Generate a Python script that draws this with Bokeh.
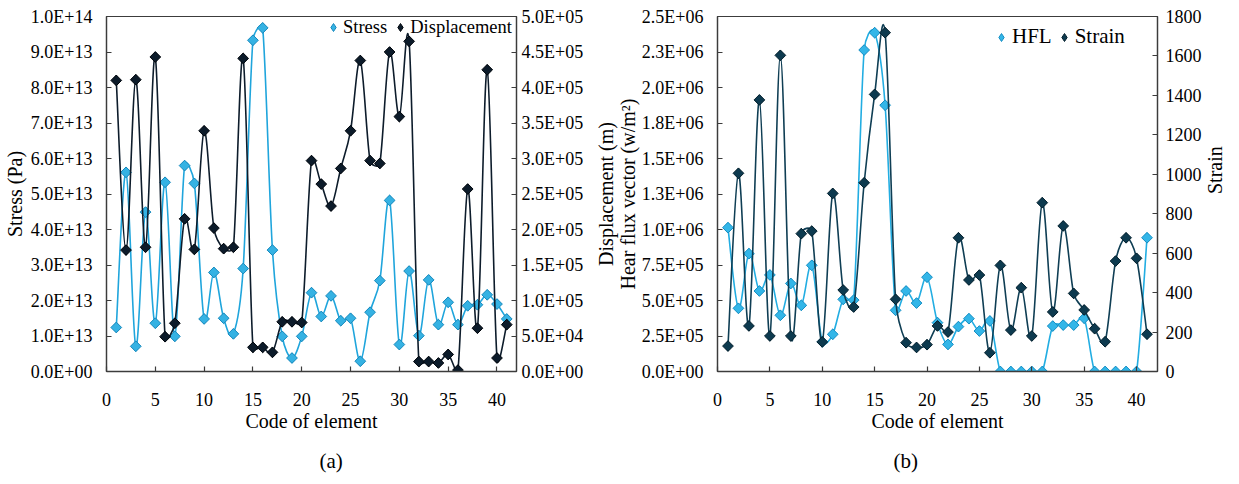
import math
from bokeh.plotting import figure
from bokeh.layouts import row
from bokeh.models import (Range1d, LinearAxis, FixedTicker, CustomJSTickFormatter,
                          Legend, LegendItem, ColumnDataSource, Title)
from bokeh.embed import file_html
from bokeh.resources import INLINE

FONT = "Liberation Serif"

# ---------------- data ----------------
element = [1, 2, 3, 4, 5, 6, 7, 8, 9, 10, 11, 12, 13, 14, 15, 16, 17, 18, 19, 20, 21,
           22, 23, 24, 25, 26, 27, 28, 29, 30, 31, 32, 33, 34, 35, 36, 37, 38, 39, 40, 41]

stress = [1.24e13, 5.61e13, 0.71e13, 4.49e13, 1.36e13, 5.33e13, 0.99e13, 5.80e13, 5.30e13,
          1.48e13, 2.79e13, 1.50e13, 1.06e13, 2.90e13, 9.33e13, 9.68e13, 3.42e13, 0.99e13,
          0.38e13, 0.99e13, 2.22e13, 1.55e13, 2.13e13, 1.43e13, 1.50e13, 0.29e13, 1.67e13,
          2.56e13, 4.82e13, 0.76e13, 2.83e13, 1.01e13, 2.58e13, 1.32e13, 1.95e13, 1.32e13,
          1.85e13, 1.88e13, 2.16e13, 1.90e13, 1.48e13]

displacement = [4.10e5, 1.71e5, 4.11e5, 1.75e5, 4.43e5, 0.49e5, 0.68e5, 2.15e5, 1.72e5,
                3.39e5, 2.02e5, 1.73e5, 1.75e5, 4.41e5, 0.34e5, 0.34e5, 0.27e5, 0.70e5,
                0.70e5, 0.69e5, 2.97e5, 2.64e5, 2.33e5, 2.86e5, 3.39e5, 4.38e5, 2.97e5,
                2.93e5, 4.50e5, 3.59e5, 4.65e5, 0.14e5, 0.14e5, 0.12e5, 0.24e5, 0.02e5,
                2.57e5, 0.61e5, 4.25e5, 0.19e5, 0.66e5]

hfl = [1.013e6, 0.445e6, 0.83e6, 0.567e6, 0.68e6, 0.396e6, 0.62e6, 0.466e6, 0.748e6,
       0.208e6, 0.262e6, 0.508e6, 0.503e6, 2.264e6, 2.386e6, 1.875e6, 0.431e6, 0.567e6,
       0.482e6, 0.664e6, 0.344e6, 0.191e6, 0.316e6, 0.372e6, 0.285e6, 0.356e6, 0.0, 0.0,
       0.0, 0.0, 0.0, 0.32e6, 0.327e6, 0.327e6, 0.375e6, 0.0, 0.0, 0.0, 0.0, 0.0, 0.942e6]

strain = [129, 1005, 231, 1377, 180, 1603, 180, 699, 712, 150, 903, 413, 327, 957, 1405,
          1718, 366, 146, 122, 136, 231, 200, 678, 464, 489, 95, 538, 210, 425, 180, 856,
          302, 738, 396, 312, 217, 151, 560, 678, 574, 189]

x_ticks = [0, 5, 10, 15, 20, 25, 30, 35, 40]
x_tick_labels = ["0", "5", "10", "15", "20", "25", "30", "35", "40"]

stress_ticks = [0, 1e13, 2e13, 3e13, 4e13, 5e13, 6e13, 7e13, 8e13, 9e13, 1e14]
stress_tick_labels = ["0.0E+00", "1.0E+13", "2.0E+13", "3.0E+13", "4.0E+13", "5.0E+13",
                      "6.0E+13", "7.0E+13", "8.0E+13", "9.0E+13", "1.0E+14"]

disp_ticks = [0, 5e4, 1e5, 1.5e5, 2e5, 2.5e5, 3e5, 3.5e5, 4e5, 4.5e5, 5e5]
disp_tick_labels = ["0.0E+00", "5.0E+04", "1.0E+05", "1.5E+05", "2.0E+05", "2.5E+05",
                    "3.0E+05", "3.5E+05", "4.0E+05", "4.5E+05", "5.0E+05"]

hfl_ticks = [0, 2.5e5, 5e5, 7.5e5, 1e6, 1.25e6, 1.5e6, 1.75e6, 2e6, 2.25e6, 2.5e6]
hfl_tick_labels = ["0.0E+00", "2.5E+05", "5.0E+05", "7.5E+05", "1.0E+06", "1.3E+06",
                   "1.5E+06", "1.8E+06", "2.0E+06", "2.3E+06", "2.5E+06"]

strain_ticks = [0, 200, 400, 600, 800, 1000, 1200, 1400, 1600, 1800]
strain_tick_labels = ["0", "200", "400", "600", "800", "1000", "1200", "1400", "1600", "1800"]

X_MAX = 42


# ---------------- helpers ----------------
def fmt(ticks, labels):
    return CustomJSTickFormatter(args=dict(tv=ticks, tl=labels), code="""
        for (let i = 0; i < tv.length; i++) {
            if (Math.abs(tv[i] - tick) <= 1e-9 * Math.max(1, Math.abs(tv[i]))) return tl[i];
        }
        return "";
    """)


def smooth_source(xs, ys, kx, ky):
    """Excel-style smoothed segments: Bezier control points computed in pixel space,
    with the control-point distance capped at half of the segment length."""
    n = len(xs)
    P = [(x * kx, y * ky) for x, y in zip(xs, ys)]

    def dist(a, b):
        return math.hypot(a[0] - b[0], a[1] - b[1])

    d = dict(x0=[], y0=[], x1=[], y1=[], cx0=[], cy0=[], cx1=[], cy1=[])
    for i in range(n - 1):
        p0 = P[i - 1] if i > 0 else P[i]
        p1 = P[i]
        p2 = P[i + 1]
        p3 = P[i + 2] if i + 2 < n else P[i + 1]
        d12 = dist(p1, p2)
        d02 = dist(p0, p2)
        d13 = dist(p1, p3)
        f1 = 1.0 / 6.0
        if d02 > 0 and d02 * f1 > d12 / 2:
            f1 = d12 / (2 * d02)
        f2 = 1.0 / 6.0
        if d13 > 0 and d13 * f2 > d12 / 2:
            f2 = d12 / (2 * d13)
        c1 = (p1[0] + (p2[0] - p0[0]) * f1, p1[1] + (p2[1] - p0[1]) * f1)
        c2 = (p2[0] - (p3[0] - p1[0]) * f2, p2[1] - (p3[1] - p1[1]) * f2)
        d["x0"].append(xs[i]); d["y0"].append(ys[i])
        d["x1"].append(xs[i + 1]); d["y1"].append(ys[i + 1])
        d["cx0"].append(c1[0] / kx); d["cy0"].append(c1[1] / ky)
        d["cx1"].append(c2[0] / kx); d["cy1"].append(c2[1] / ky)
    return ColumnDataSource(d)


def style_axis(ax, standoff):
    ax.axis_line_color = "#3c3c3c"
    ax.axis_line_width = 1.3
    ax.major_tick_line_color = "#3c3c3c"
    ax.major_tick_line_width = 1.2
    ax.major_tick_in = 5
    ax.major_tick_out = 0
    ax.minor_tick_line_color = None
    ax.major_label_text_font = FONT
    ax.major_label_text_font_size = "18px"
    ax.major_label_text_color = "black"
    ax.major_label_standoff = standoff


def axis_title(ax, text, standoff, upward_right=False):
    ax.axis_label = text
    ax.axis_label_text_font = FONT
    ax.axis_label_text_font_size = "20px"
    ax.axis_label_text_font_style = "normal"
    ax.axis_label_text_color = "black"
    ax.axis_label_standoff = standoff
    if upward_right:
        try:
            ax.axis_label_orientation = math.pi / 2
        except Exception:
            pass


def make_fig(width, left, right, top, bottom, y_range, caption, cap_offset):
    p = figure(width=width, height=484, output_backend="svg", toolbar_location=None,
               x_range=Range1d(0, X_MAX), y_range=y_range,
               min_border_left=left, min_border_right=right,
               min_border_top=top, min_border_bottom=bottom)
    p.grid.visible = False
    p.outline_line_color = "#3c3c3c"
    p.outline_line_width = 1.2
    p.background_fill_color = "white"
    p.border_fill_color = "white"
    xa = p.xaxis[0]
    xa.ticker = FixedTicker(ticks=x_ticks)
    xa.formatter = fmt(x_ticks, x_tick_labels)
    style_axis(xa, 21)
    axis_title(xa, "Code of element", 1)
    cap = Title(text=caption, align="left", offset=cap_offset, standoff=24,
                text_font=FONT, text_font_size="21px", text_font_style="normal",
                text_color="black")
    p.add_layout(cap, "below")
    return p


def series(p, xs, ys, kx, ky, line_color, fill, edge, rname="default"):
    p.bezier(x0="x0", y0="y0", x1="x1", y1="y1", cx0="cx0", cy0="cy0", cx1="cx1",
             cy1="cy1", source=smooth_source(xs, ys, kx, ky), line_color=line_color,
             line_width=1.6, y_range_name=rname)
    src = ColumnDataSource(dict(x=xs, y=ys))
    # diamond used for the legend (hidden under the rotated square markers)
    leg = p.scatter("x", "y", source=src, marker="diamond", size=10,
                    fill_color=fill, line_color=edge, line_width=1.0, y_range_name=rname)
    p.scatter("x", "y", source=src, marker="square", angle=math.pi / 4, size=7.6,
              fill_color=fill, line_color=edge, line_width=1.0, y_range_name=rname)
    return leg


# ---------------- chart (a) ----------------
A_LEFT, A_RIGHT, A_FW, A_FH = 102, 66, 418, 357
A_W = A_LEFT + A_FW + A_RIGHT
pa = make_fig(A_W, A_LEFT, A_RIGHT, 15, 484 - 15 - A_FH, Range1d(0, 1e14), "(a)", 213)
ya = pa.yaxis[0]
ya.ticker = FixedTicker(ticks=stress_ticks)
ya.formatter = fmt(stress_ticks, stress_tick_labels)
style_axis(ya, 14)
axis_title(ya, "Stress (Pa)", 2)

pa.extra_y_ranges = {"disp": Range1d(0, 5e5)}
ra = LinearAxis(y_range_name="disp", ticker=FixedTicker(ticks=disp_ticks),
                formatter=fmt(disp_ticks, disp_tick_labels))
style_axis(ra, 5)
pa.add_layout(ra, "right")

kxa = A_FW / X_MAX
s_stress = series(pa, element, stress, kxa, A_FH / 1e14, "#1fa5dc", "#35b2e3", "#1789bd")
s_disp = series(pa, element, displacement, kxa, A_FH / 5e5, "#0d1c2b", "#0c1b2a", "#02070d", "disp")

leg_a = Legend(items=[LegendItem(label="Stress", renderers=[s_stress]),
                      LegendItem(label="Displacement", renderers=[s_disp])],
               orientation="horizontal", location=(217, 333), padding=0, margin=0,
               spacing=3, glyph_width=20, glyph_height=22, label_standoff=0,
               border_line_color=None, background_fill_alpha=0,
               label_text_font=FONT, label_text_font_size="18.5px",
               label_text_color="black")
pa.add_layout(leg_a)

# ---------------- chart (b) ----------------
B_W = 1239 - A_W
B_LEFT, B_FW = 717 - A_W, 443
B_RIGHT = B_W - B_LEFT - B_FW
B_FH = 355
pb = make_fig(B_W, B_LEFT, B_RIGHT, 16, 484 - 16 - B_FH, Range1d(0, 2.5e6), "(b)", 176)
yb = pb.yaxis[0]
yb.ticker = FixedTicker(ticks=hfl_ticks)
yb.formatter = fmt(hfl_ticks, hfl_tick_labels)
style_axis(yb, 14)
axis_title(yb, "Hear flux vector (w/m\u00b2)", 0)

# title of the displacement axis of chart (a), set just left of chart (b)'s axis title
disp_title_axis = LinearAxis(ticker=FixedTicker(ticks=[]), axis_line_color=None,
                             major_tick_line_color=None, minor_tick_line_color=None,
                             major_tick_in=0, major_tick_out=0, major_label_standoff=0)
axis_title(disp_title_axis, "Displacement (m)", -3)
pb.add_layout(disp_title_axis, "left")

pb.extra_y_ranges = {"strain": Range1d(0, 1800)}
rb = LinearAxis(y_range_name="strain", ticker=FixedTicker(ticks=strain_ticks),
                formatter=fmt(strain_ticks, strain_tick_labels))
style_axis(rb, 8)
axis_title(rb, "Strain", 10, upward_right=True)
pb.add_layout(rb, "right")

kxb = B_FW / X_MAX
s_hfl = series(pb, element, hfl, kxb, B_FH / 2.5e6, "#22ade2", "#33b6e8", "#178fc4")
s_strain = series(pb, element, strain, kxb, B_FH / 1800, "#0f3e54", "#0d3a4f", "#06222f", "strain")

leg_b = Legend(items=[LegendItem(label="HFL", renderers=[s_hfl]),
                      LegendItem(label="Strain", renderers=[s_strain])],
               orientation="horizontal", location=(274, 322), padding=0, margin=0,
               spacing=2, glyph_width=20, glyph_height=22, label_standoff=1,
               border_line_color=None, background_fill_alpha=0,
               label_text_font=FONT, label_text_font_size="21px",
               label_text_color="black")
pb.add_layout(leg_b)

layout = row(pa, pb)
open("out.html", "w").write(file_html(layout, INLINE))
